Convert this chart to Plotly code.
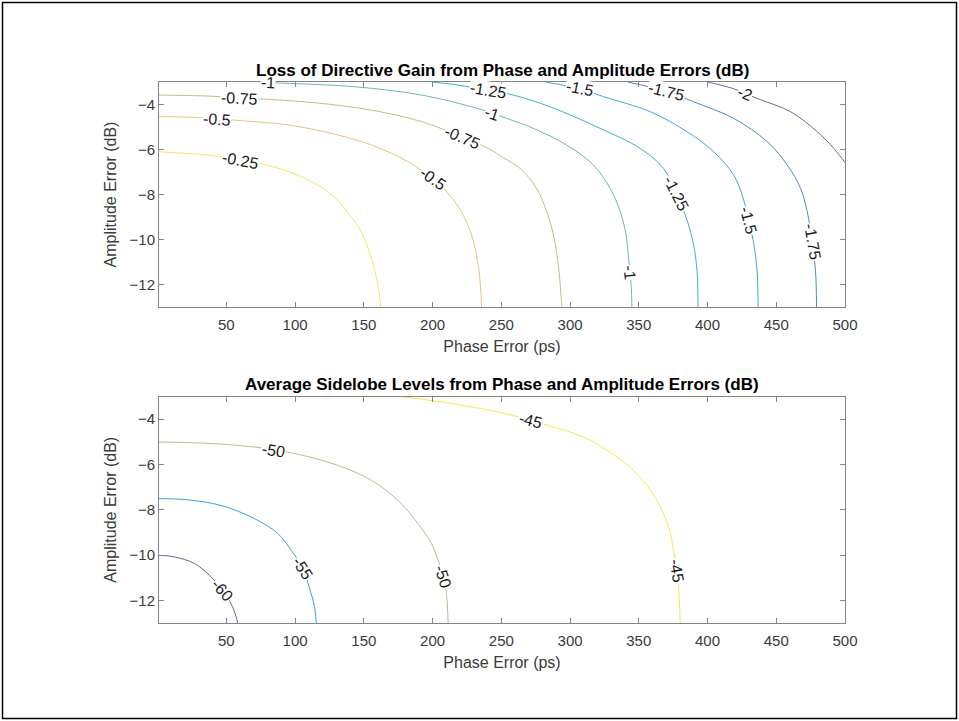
import math
import plotly.graph_objects as go

# Directive-gain loss contours (dB): points are (phase error in ps, amplitude error in dB)
gain_m025 = [(1, -6.10), (41, -6.28), (60, -6.48), (81, -6.72), (102, -7.14), (124, -7.88),
             (138, -8.77), (148, -9.65), (155.5, -10.84), (160.3, -12.03), (162.3, -13.0)]
gain_m050 = [(1, -4.54), (27, -4.57), (43, -4.64), (61, -4.72), (95, -4.91), (126, -5.28),
             (155.5, -5.80), (182, -6.54), (200, -7.30), (212.5, -8.03), (221, -8.77),
             (228.4, -9.80), (233.2, -11.14), (235.1, -12.32), (235.6, -13.0)]
gain_m075 = [(1, -3.58), (39, -3.63), (59.5, -3.71), (80, -3.77), (119, -3.95), (155.5, -4.25),
             (192, -4.76), (221.5, -5.45), (240.5, -5.95), (251, -6.35), (263.6, -6.84),
             (275.7, -7.73), (283, -8.76), (287.9, -9.80), (291.5, -11.14), (293.2, -12.32),
             (294, -13.0)]
gain_m100 = [(74, -3.0), (91, -3.05), (143.3, -3.21), (192, -3.58), (234, -4.20), (254, -4.62),
             (273.3, -5.06), (297.6, -5.80), (317, -6.69), (329.2, -7.73), (336.5, -8.76),
             (340.8, -9.80), (342.5, -10.84), (344.5, -12.10), (345, -13.0)]
gain_m125 = [(200, -3.0), (218.6, -3.14), (241, -3.37), (258.7, -3.58), (285.4, -4.10),
             (321.9, -5.06), (351, -5.95), (368, -6.84), (377.3, -7.95), (385.1, -9.14),
             (389.9, -10.25), (392.4, -11.43), (393.1, -13.0)]
gain_m150 = [(282, -3.0), (307, -3.30), (324.3, -3.65), (358.3, -4.32), (385.1, -5.21),
             (404.5, -6.10), (419.1, -7.14), (425.2, -8.03), (430, -9.14), (433.6, -10.17),
             (436.1, -11.43), (436.8, -13.0)]
gain_m175 = [(342, -3.0), (370, -3.42), (389.9, -3.88), (419.1, -4.62), (443.4, -5.65),
             (458, -6.69), (467.7, -7.73), (472.5, -8.76), (476.2, -10.10), (478.6, -11.43),
             (479.3, -13.0)]
gain_m200 = [(400, -3.0), (418, -3.28), (436, -3.73), (460.4, -4.32), (479.8, -5.21),
             (491.9, -5.95), (500, -6.58)]

gain_levels = [-0.25, -0.5, -0.75, -1, -1.25, -1.5, -1.75, -2]
gain_lines = [gain_m025, gain_m050, gain_m075, gain_m100,
              gain_m125, gain_m150, gain_m175, gain_m200]
# inline labels: (level, phase, amplitude)
gain_labels = [(-0.25, 60, -6.50), (-0.5, 43, -4.66), (-0.5, 200, -7.30),
               (-0.75, 59.5, -3.72), (-0.75, 221.5, -5.47),
               (-1, 80, -3.03), (-1, 243, -4.40), (-1, 343.5, -11.46),
               (-1.25, 241, -3.37), (-1.25, 377.3, -7.95),
               (-1.5, 307, -3.30), (-1.5, 430, -9.14),
               (-1.75, 370, -3.42), (-1.75, 476.2, -10.10),
               (-2, 427, -3.50)]

# Average sidelobe level contours (dB)
sll_m45 = [(177, -3.0), (216, -3.33), (252, -3.74), (271, -4.05), (284.2, -4.28),
           (309.7, -4.79), (334.1, -5.67), (351, -6.56), (363.2, -7.59), (371.7, -8.76),
           (375.3, -9.79), (377.8, -10.67), (379, -11.48), (380.2, -13.0)]
sll_m50 = [(1, -5.01), (34, -5.06), (70.4, -5.23), (98.3, -5.50), (131.1, -6.04),
           (155.5, -6.70), (174.9, -7.59), (189.4, -8.61), (199.2, -9.49), (204, -10.23),
           (207.7, -10.93), (210.1, -11.70), (211.3, -13.0)]
sll_m55 = [(1, -7.51), (21.8, -7.56), (46.1, -7.81), (70.4, -8.39), (87.4, -9.05),
           (97.2, -9.79), (105.6, -10.59), (109.8, -11.33), (114.1, -12.28), (115.4, -13.0)]
sll_m60 = [(1, -10.01), (12.1, -10.08), (26.7, -10.37), (37.6, -10.89), (47.3, -11.55),
           (53.9, -12.21), (57.1, -12.72), (58.2, -13.0)]

sll_levels = [-45, -50, -55, -60]
sll_lines = [sll_m45, sll_m50, sll_m55, sll_m60]
sll_labels = [(-45, 271, -4.05), (-45, 377.8, -10.67), (-50, 84.3, -5.38),
              (-50, 207.7, -10.93), (-55, 105.6, -10.59), (-60, 47.3, -11.55)]

phase_ticks = [50, 100, 150, 200, 250, 300, 350, 400, 450, 500]
amp_ticks = [-12, -10, -8, -6, -4]
phase_range = [1, 500]
amp_range = [-13, -3]

# ---- styling -------------------------------------------------------------
gain_colors = ["#f3e85a", "#e3c47e", "#c2bd86", "#6fbba0",
               "#3fb1c4", "#45a3d8", "#4f88c8", "#6c6a9c"]
sll_colors = ["#f0ea52", "#bdbb8e", "#3aa5d0", "#696797"]

FONT = "Liberation Sans, Arial, Helvetica, sans-serif"
W, H = 959, 721
ML, MR, MT, MB = 159, 114, 82, 98
plot_w = W - ML - MR
paper_h = H - MT - MB
top_px = (82.0, 307.0)     # top/bottom pixel rows of upper axes
bot_px = (396.5, 623.0)    # top/bottom pixel rows of lower axes


def domain(rows):
    return [(H - MB - rows[1]) / paper_h, (H - MB - rows[0]) / paper_h]


def label_angle(pts, lx, ly, sx, sy):
    """Rotation (deg, clockwise) of the curve segment nearest to the label."""
    best, seg = None, None
    for (x1, y1), (x2, y2) in zip(pts, pts[1:]):
        ax, ay = x1 * sx, -y1 * sy
        bx, by = x2 * sx, -y2 * sy
        px, py = lx * sx, -ly * sy
        dx, dy = bx - ax, by - ay
        t = max(0.0, min(1.0, ((px - ax) * dx + (py - ay) * dy) / (dx * dx + dy * dy)))
        d = math.hypot(ax + t * dx - px, ay + t * dy - py)
        if best is None or d < best:
            best, seg = d, (dx, dy)
    a = math.degrees(math.atan2(seg[1], seg[0]))
    if a > 90:
        a -= 180
    if a <= -90:
        a += 180
    return a


fig = go.Figure()
annotations = []

panels = [
    ("x", "y", top_px, gain_levels, gain_lines, gain_colors, gain_labels),
    ("x2", "y2", bot_px, sll_levels, sll_lines, sll_colors, sll_labels),
]
for xa, ya, rows, levels, lines, colors, labels in panels:
    sx = plot_w / (phase_range[1] - phase_range[0])
    sy = (rows[1] - rows[0]) / (amp_range[1] - amp_range[0])
    for lvl, pts, col in zip(levels, lines, colors):
        fig.add_trace(go.Scatter(
            x=[p[0] for p in pts], y=[p[1] for p in pts], mode="lines",
            line=dict(color=col, width=1.0, shape="spline", smoothing=1.0),
            xaxis=xa, yaxis=ya, hoverinfo="skip", showlegend=False))
    for lvl, lx, ly in labels:
        pts = lines[levels.index(lvl)]
        annotations.append(dict(
            x=lx, y=ly, xref=xa, yref=ya, text=f"{lvl:g}", showarrow=False,
            textangle=label_angle(pts, lx, ly, sx, sy),
            font=dict(family=FONT, size=16, color="#1a1a1a"),
            bgcolor="white", borderpad=0))

titles = [("Loss of Directive Gain from Phase and Amplitude Errors (dB)", top_px),
          ("Average Sidelobe Levels from Phase and Amplitude Errors (dB)", bot_px)]
for text, rows in titles:
    annotations.append(dict(
        x=0.5, y=domain(rows)[1], xref="paper", yref="paper", text=f"<b>{text}</b>",
        showarrow=False, xanchor="center", yanchor="bottom", yshift=0,
        font=dict(family=FONT, size=17, color="#000000")))

axis_common = dict(
    showline=True, linecolor="#858585", linewidth=1, mirror="ticks",
    ticks="inside", ticklen=5, tickcolor="#858585", tickwidth=1,
    showgrid=False, zeroline=False,
    tickfont=dict(family=FONT, size=15, color="#3a3a3a"),
)
xcommon = dict(axis_common, range=phase_range, tickvals=phase_ticks,
               ticklabelstandoff=4,
               title=dict(text="Phase Error (ps)", standoff=8,
                          font=dict(family=FONT, size=16, color="#3a3a3a")))
ycommon = dict(axis_common, range=amp_range, tickvals=amp_ticks,
               ticklabelstandoff=0,
               title=dict(text="Amplitude Error (dB)", standoff=8,
                          font=dict(family=FONT, size=16, color="#3a3a3a")))

fig.update_layout(
    width=W, height=H,
    margin=dict(l=ML, r=MR, t=MT, b=MB, pad=0),
    paper_bgcolor="white", plot_bgcolor="white",
    xaxis=dict(xcommon, domain=[0, 1], anchor="y"),
    yaxis=dict(ycommon, domain=domain(top_px), anchor="x"),
    xaxis2=dict(xcommon, domain=[0, 1], anchor="y2"),
    yaxis2=dict(ycommon, domain=domain(bot_px), anchor="x2"),
    annotations=annotations,
    shapes=[dict(type="rect", xref="paper", yref="paper",
                 x0=(2.5 - ML) / plot_w, x1=(956.5 - ML) / plot_w,
                 y0=(H - MB - 718.5) / paper_h, y1=(H - MB - 2.5) / paper_h,
                 line=dict(color="#000000", width=1.5), layer="above")],
)

fig.write_html("out.html")
